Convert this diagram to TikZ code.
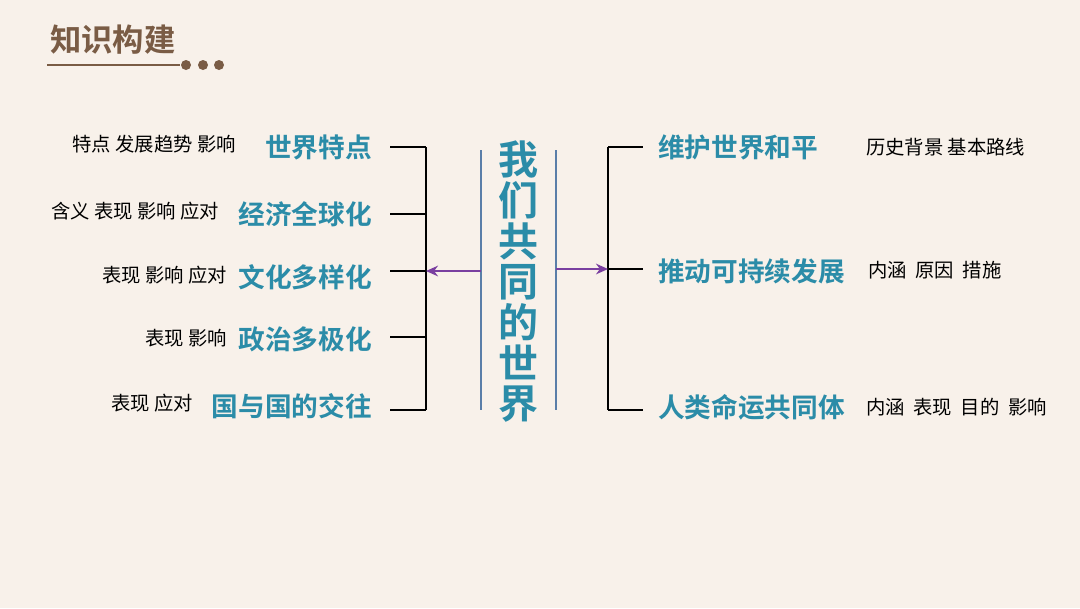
\documentclass[tikz,border=0pt]{standalone}
\usepackage{fontspec}
\setmainfont{Noto Sans CJK SC}
\newfontfamily\cjkb{Noto Sans CJK SC Bold}
\definecolor{bg}{HTML}{F8F1EA}
\definecolor{teal}{HTML}{2B8CA8}
\definecolor{brn}{HTML}{7A5C45}
\definecolor{pur}{HTML}{7A3FA0}
\definecolor{vl}{HTML}{5A7EA8}
\usetikzlibrary{arrows.meta}
\tikzset{
 big/.style={font=\cjkb\fontsize{20}{20}\selectfont, text=teal, inner sep=0pt},
 small/.style={font=\fontsize{14.5}{15}\selectfont, text=black, inner sep=0pt},
 ln/.style={line width=1pt, black},
 ar/.style={pur, line width=1.4pt, -{Stealth[length=9pt,width=8pt]}}
}
\begin{document}
\begin{tikzpicture}[x=0.75pt,y=-0.75pt]
\fill[bg] (0,0) rectangle (1080,608);
\useasboundingbox (0,0) rectangle (1080,608);
\node[font=\cjkb\fontsize{23.5}{24}\selectfont, text=brn, anchor=west, inner sep=0pt] (title) at (50,40) {知识构建};
\coordinate (t0) at (47,65); \coordinate (t1) at (180,65);
\draw[brn, line width=0.8pt] (t0) -- (t1);
\foreach \x in {186,203,219} \fill[brn] (\x,65) circle (5);
% center
\node[big, font=\cjkb\fontsize{30}{30.5}\selectfont, align=center] (c) at (518,282) {我\\们\\共\\同\\的\\世\\界};
\coordinate (v1a) at (481,150); \coordinate (v1b) at (481,410);
\coordinate (v2a) at (556,150); \coordinate (v2b) at (556,410);
\draw[vl, line width=1.5pt] (v1a) -- (v1b);
\draw[vl, line width=1.5pt] (v2a) -- (v2b);
% left bracket
\coordinate (lt) at (426,147); \coordinate (lb) at (426,410);
\draw[ln] (lt) -- (lb);
\foreach \y/\n in {147/a,214/b,271/c,337/d,410/e} {
 \coordinate (L\n) at (390,\y); \coordinate (Lx\n) at (426,\y);
 \draw[ln] (L\n) -- (Lx\n);
}
\coordinate (al) at (481,271); \draw[ar] (al) -- (Lxc);
% right bracket
\coordinate (rt) at (608,147); \coordinate (rb) at (608,410);
\draw[ln] (rt) -- (rb);
\foreach \y/\n in {147/a,269/b,410/c} {
 \coordinate (R\n) at (643,\y); \coordinate (Rx\n) at (608,\y);
 \draw[ln] (Rx\n) -- (R\n);
}
\coordinate (ar0) at (556,269); \draw[ar] (ar0) -- (Rxb);
% left labels
\node[big, anchor=east] (l1) at (372,147) {世界特点};
\node[big, anchor=east] (l2) at (372,214) {经济全球化};
\node[big, anchor=east] (l3) at (372,277) {文化多样化};
\node[big, anchor=east] (l4) at (372,339) {政治多极化};
\node[big, anchor=east] (l5) at (372,406) {国与国的交往};
\node[small, anchor=east] (s1) at (236,144) {特点 发展趋势 影响};
\node[small, anchor=east] (s2) at (219,211) {含义 表现 影响 应对};
\node[small, anchor=east] (s3) at (227,275) {表现 影响 应对};
\node[small, anchor=east] (s4) at (227,338) {表现 影响};
\node[small, anchor=east] (s5) at (193,403) {表现 应对};
% right labels
\node[big, anchor=west] (r1) at (658,147) {维护世界和平};
\node[big, anchor=west] (r2) at (658,271) {推动可持续发展};
\node[big, anchor=west] (r3) at (658,407) {人类命运共同体};
\node[small, anchor=west] (t1s) at (866,147) {历史背景 基本路线};
\node[small, anchor=west] (t2s) at (868,270) {内涵\ \ 原因\ \ 措施};
\node[small, anchor=west] (t3s) at (866,407) {内涵\ \ 表现\ \ 目的\ \ 影响};
\end{tikzpicture}
\end{document}
